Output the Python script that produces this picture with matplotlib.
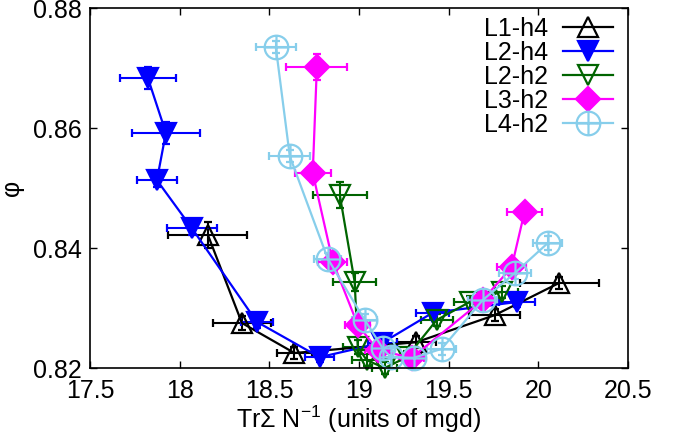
import numpy as np
import matplotlib
matplotlib.use("Agg")
import matplotlib.pyplot as plt
from matplotlib.path import Path

plt.rcParams["font.family"] = ["Liberation Sans", "DejaVu Sans"]
plt.rcParams["mathtext.default"] = "regular"

# L1-h4
l1h4_x = [18.157, 18.347, 18.64, 19.32, 19.756, 20.118]
l1h4_y = [0.8422, 0.8275, 0.8225, 0.8243, 0.8288, 0.8342]
l1h4_xerr = [0.22, 0.16, 0.10, 0.11, 0.14, 0.22]
l1h4_yerr = [0.0022, 0.0012, 0.0010, 0.0010, 0.0010, 0.0010]

# L2-h4
l2h4_x = [17.823, 17.923, 17.873, 18.068, 18.43, 18.78, 19.13, 19.41, 19.88]
l2h4_y = [0.8683, 0.8592, 0.8513, 0.8433, 0.8277, 0.8218, 0.8242, 0.8292, 0.8310]
l2h4_xerr = [0.156, 0.19, 0.11, 0.14, 0.09, 0.08, 0.08, 0.09, 0.10]
l2h4_yerr = [0.0018, 0.0018, 0.0012, 0.0012, 0.0010, 0.0008, 0.0008, 0.0008, 0.0008]

# L2-h2
l2h2_x = [18.893, 18.976, 18.993, 19.043, 19.143, 19.266, 19.433, 19.617, 19.795]
l2h2_y = [0.8488, 0.8343, 0.8235, 0.8213, 0.8200, 0.8218, 0.8280, 0.8310, 0.8327]
l2h2_xerr = [0.15, 0.12, 0.08, 0.08, 0.07, 0.08, 0.09, 0.09, 0.09]
l2h2_yerr = [0.0022, 0.0015, 0.0012, 0.0010, 0.0010, 0.0010, 0.0010, 0.0010, 0.0010]

# L3-h2
l3h2_x = [18.765, 18.742, 18.854, 18.993, 19.104, 19.294, 19.689, 19.851, 19.923]
l3h2_y = [0.8702, 0.8525, 0.8377, 0.8272, 0.8230, 0.8217, 0.8313, 0.8368, 0.8460]
l3h2_xerr = [0.17, 0.10, 0.08, 0.07, 0.07, 0.07, 0.08, 0.08, 0.095]
l3h2_yerr = [0.0022, 0.0015, 0.0012, 0.0010, 0.0010, 0.0010, 0.0010, 0.0010, 0.0010]

# L4-h2
l4h2_x = [18.536, 18.614, 18.826, 19.032, 19.132, 19.177, 19.305, 19.461, 19.689, 19.868, 20.052]
l4h2_y = [0.8735, 0.8553, 0.8382, 0.8280, 0.8233, 0.8218, 0.8217, 0.8232, 0.8313, 0.8358, 0.8408]
l4h2_xerr = [0.11, 0.115, 0.075, 0.07, 0.07, 0.07, 0.07, 0.08, 0.08, 0.09, 0.08]
l4h2_yerr = [0.0010, 0.0010, 0.0010, 0.0010, 0.0010, 0.0010, 0.0010, 0.0010, 0.0010, 0.0010, 0.0012]

# circle with a plus inside, like gnuplot point type
circ_plus = Path.make_compound_path(
    Path.unit_circle(),
    Path([(-1, 0), (1, 0)], [Path.MOVETO, Path.LINETO]),
    Path([(0, -1), (0, 1)], [Path.MOVETO, Path.LINETO]),
)

series = [
    ("L1-h4", l1h4_x, l1h4_y, l1h4_xerr, l1h4_yerr, "black", "^", "none", 15),
    ("L2-h4", l2h4_x, l2h4_y, l2h4_xerr, l2h4_yerr, "#0000ff", "v", "full", 15),
    ("L2-h2", l2h2_x, l2h2_y, l2h2_xerr, l2h2_yerr, "#006400", "v", "none", 15),
    ("L3-h2", l3h2_x, l3h2_y, l3h2_xerr, l3h2_yerr, "#ff00ff", "D", "full", 12),
    ("L4-h2", l4h2_x, l4h2_y, l4h2_xerr, l4h2_yerr, "#87ceeb", circ_plus, "none", 17),
]

fig = plt.figure(figsize=(6.8, 4.42), dpi=100)
ax = fig.add_axes([0.1324, 0.1674, 0.7911, 0.8145])

for label, x, y, xe, ye, c, m, fill, ms in series:
    eb = ax.errorbar(x, y, xerr=xe, yerr=ye, color=c, marker=m, ms=ms,
                     fillstyle=fill, mew=1.6, lw=1.6, elinewidth=1.5,
                     capsize=3, capthick=1.5, label=label)
    for art in eb.lines[0:1] + tuple(eb.lines[1]) + tuple(eb.lines[2]):
        art.set_clip_on(False)

ax.set_xlim(17.5, 20.5)
ax.set_ylim(0.82, 0.88)
ax.set_xticks([17.5, 18, 18.5, 19, 19.5, 20, 20.5])
ax.set_xticklabels(["17.5", "18", "18.5", "19", "19.5", "20", "20.5"])
ax.set_yticks([0.82, 0.84, 0.86, 0.88])
ax.tick_params(direction="in", top=True, right=True, length=5, width=1,
               labelsize=18)
ax.tick_params(axis="x", pad=8)
ax.tick_params(axis="y", pad=6)
for s in ax.spines.values():
    s.set_linewidth(1.2)

ax.set_xlabel("TrΣ N$^{-1}$ (units of mgd)", fontsize=18, labelpad=0)
ax.set_ylabel("φ", fontsize=18, labelpad=6)

handles, labels = ax.get_legend_handles_labels()
handles = [h[0] for h in handles]
ax.legend(handles, labels, loc="upper right", bbox_to_anchor=(0.972, 0.975),
          frameon=False, fontsize=18, markerfirst=False, handlelength=2.0,
          labelspacing=0.0, borderpad=0, borderaxespad=0, handletextpad=0.6)

fig.savefig("out.png", dpi=100)
